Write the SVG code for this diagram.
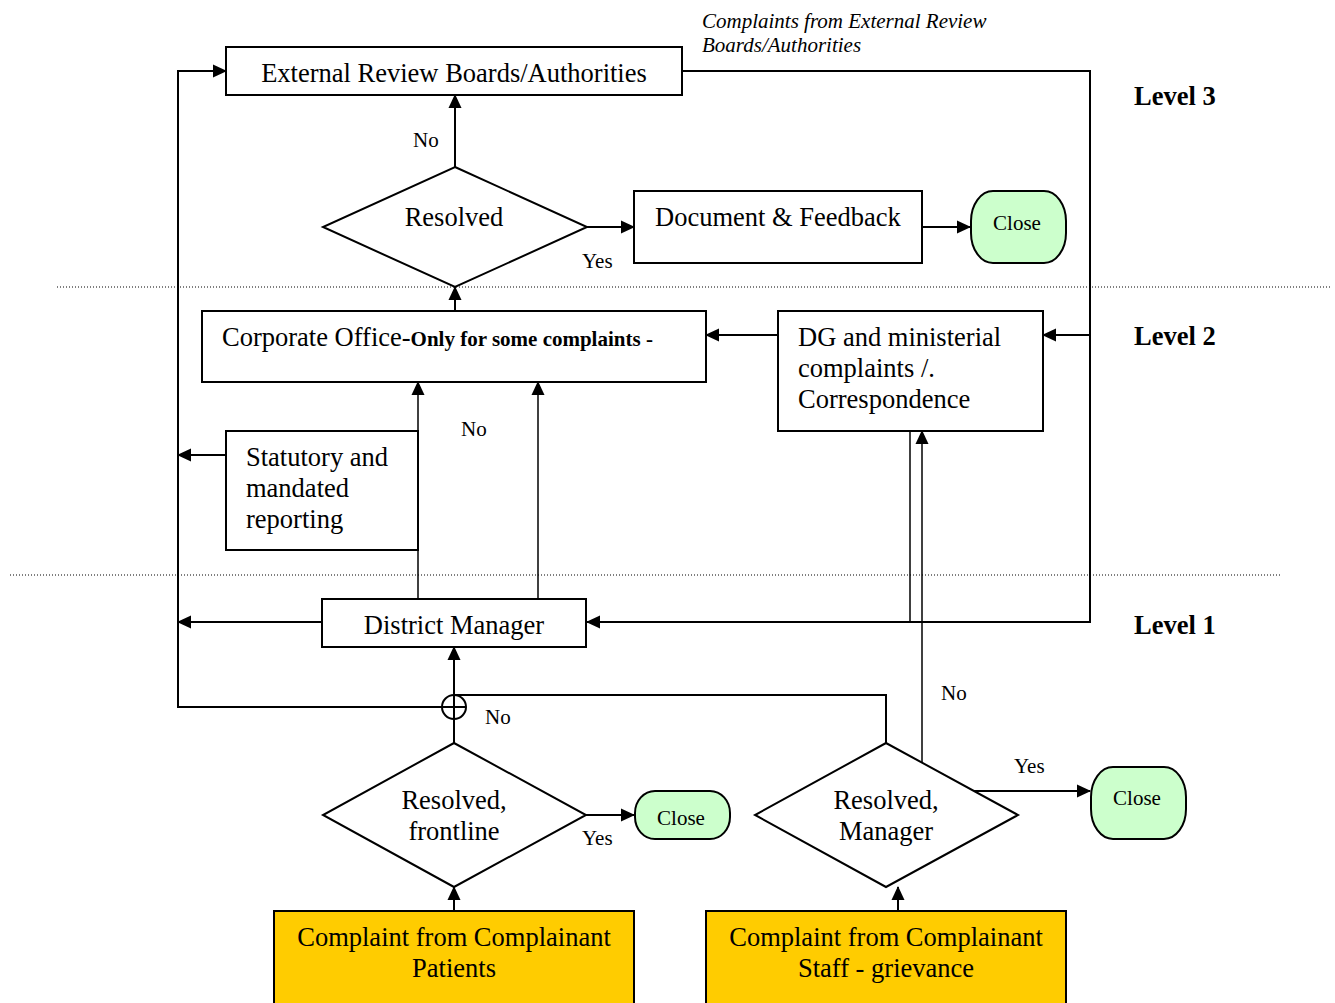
<svg xmlns="http://www.w3.org/2000/svg" width="1335" height="1003" viewBox="0 0 1335 1003">
<defs>
  <marker id="arr" markerWidth="14" markerHeight="14" refX="13" refY="7" orient="auto" markerUnits="userSpaceOnUse">
    <path d="M0,0.5 L14,7 L0,13.5 Z" fill="#000"/>
  </marker>
</defs>
<style>
  text { font-family: "Liberation Serif", "Times New Roman", serif; fill: #000; }
  .box { fill: #fff; stroke: #000; stroke-width: 2; }
  .src { fill: #ffcc00; stroke: #000; stroke-width: 2; }
  .close { fill: #ccffcc; stroke: #000; stroke-width: 2; }
  .con { fill: none; stroke: #000; stroke-width: 2; }
  .thin { fill: none; stroke: #000; stroke-width: 1.5; }
  .dot { stroke: #000; stroke-width: 1; stroke-dasharray: 1 2; }
  .t24 { font-size: 26.5px; }
  .t19 { font-size: 21px; }
  .lvl { font-size: 26.5px; font-weight: bold; }
  .mid { text-anchor: middle; }
</style>
<rect width="1335" height="1003" fill="#fff"/>

<!-- level separators -->
<line class="dot" x1="57" y1="287" x2="1330" y2="287"/>
<line class="dot" x1="10" y1="575" x2="1280" y2="575"/>

<!-- connectors -->
<g id="connectors">
  <!-- left feedback loop to external review boards -->
  <polyline class="con" points="454,707 178,707 178,71 226,71" marker-end="url(#arr)"/>
  <line class="con" x1="226" y1="455" x2="178" y2="455" marker-end="url(#arr)"/>
  <line class="con" x1="322" y1="622" x2="178" y2="622" marker-end="url(#arr)"/>
  <!-- external review boards complaints back down -->
  <polyline class="con" points="682,71 1090,71 1090,622 587,622" marker-end="url(#arr)"/>
  <line class="con" x1="1090" y1="335" x2="1043" y2="335" marker-end="url(#arr)"/>
  <!-- level 3 decision -->
  <line class="con" x1="455" y1="167" x2="455" y2="95" marker-end="url(#arr)"/>
  <line class="con" x1="587" y1="227" x2="634" y2="227" marker-end="url(#arr)"/>
  <line class="con" x1="922" y1="227" x2="970" y2="227" marker-end="url(#arr)"/>
  <line class="con" x1="455" y1="311" x2="455" y2="287" marker-end="url(#arr)"/>
  <!-- level 2 -->
  <line class="con" x1="778" y1="335" x2="706" y2="335" marker-end="url(#arr)"/>
  <line class="thin" x1="418" y1="599" x2="418" y2="382" marker-end="url(#arr)"/>
  <line class="thin" x1="538" y1="599" x2="538" y2="382" marker-end="url(#arr)"/>
  <line class="thin" x1="910" y1="431" x2="910" y2="622"/>
  <line class="thin" x1="922" y1="765" x2="922" y2="431" marker-end="url(#arr)"/>
  <!-- level 1 -->
  <line class="con" x1="454" y1="743" x2="454" y2="647" marker-end="url(#arr)"/>
  <polyline class="con" points="454,695 886,695 886,743"/>
  <circle class="con" cx="454" cy="707" r="12"/>
  <line class="con" x1="442" y1="707" x2="466" y2="707"/>
  <line class="con" x1="586" y1="815" x2="634" y2="815" marker-end="url(#arr)"/>
  <line class="con" x1="970" y1="791" x2="1090" y2="791" marker-end="url(#arr)"/>
  <line class="con" x1="454" y1="911" x2="454" y2="887" marker-end="url(#arr)"/>
  <line class="con" x1="898" y1="911" x2="898" y2="887" marker-end="url(#arr)"/>
</g>

<!-- connector labels -->
<g id="labels">
  <text class="t19" x="413" y="147">No</text>
  <text class="t19" x="582" y="268">Yes</text>
  <text class="t19" x="461" y="436">No</text>
  <text class="t19" x="485" y="724">No</text>
  <text class="t19" x="582" y="845">Yes</text>
  <text class="t19" x="941" y="700">No</text>
  <text class="t19" x="1014" y="773">Yes</text>
  <text class="t19" x="702" y="28" font-style="italic">Complaints from External Review</text>
  <text class="t19" x="702" y="52" font-style="italic">Boards/Authorities</text>
</g>

<!-- level titles -->
<text class="lvl" x="1134" y="105">Level 3</text>
<text class="lvl" x="1134" y="345">Level 2</text>
<text class="lvl" x="1134" y="634">Level 1</text>

<g id="external-review">
  <rect class="box" x="226" y="47" width="456" height="48"/>
  <text class="t24 mid" x="454" y="82">External Review Boards/Authorities</text>
</g>

<g id="resolved-l3">
  <polygon class="box" points="455,167 587,227 455,287 323,227"/>
  <text class="t24 mid" x="454" y="226">Resolved</text>
</g>

<g id="document-feedback">
  <rect class="box" x="634" y="191" width="288" height="72"/>
  <text class="t24" x="655" y="226">Document &amp; Feedback</text>
</g>

<g id="close-l3">
  <rect class="close" x="971" y="191" width="95" height="72" rx="22" ry="30"/>
  <text class="t19 mid" x="1017" y="230">Close</text>
</g>

<g id="corporate-office">
  <rect class="box" x="202" y="311" width="504" height="71"/>
  <text class="t24" x="222" y="346">Corporate Office-<tspan font-size="21" font-weight="bold">Only for some complaints -</tspan></text>
</g>

<g id="dg-ministerial">
  <rect class="box" x="778" y="311" width="265" height="120"/>
  <text class="t24" x="798" y="346">DG and ministerial</text>
  <text class="t24" x="798" y="377">complaints /.</text>
  <text class="t24" x="798" y="408">Correspondence</text>
</g>

<g id="statutory-reporting">
  <rect class="box" x="226" y="431" width="192" height="119"/>
  <text class="t24" x="246" y="466">Statutory and</text>
  <text class="t24" x="246" y="497">mandated</text>
  <text class="t24" x="246" y="528">reporting</text>
</g>

<g id="district-manager">
  <rect class="box" x="322" y="599" width="264" height="48"/>
  <text class="t24 mid" x="454" y="634">District Manager</text>
</g>

<g id="resolved-frontline">
  <polygon class="box" points="454,743 586,815 454,887 323,815"/>
  <text class="t24 mid" x="454" y="809">Resolved,</text>
  <text class="t24 mid" x="454" y="840">frontline</text>
</g>

<g id="close-frontline">
  <rect class="close" x="635" y="791" width="95" height="48" rx="20" ry="22"/>
  <text class="t19 mid" x="681" y="825">Close</text>
</g>

<g id="resolved-manager">
  <polygon class="box" points="886,743 1018,815 886,887 755,815"/>
  <text class="t24 mid" x="886" y="809">Resolved,</text>
  <text class="t24 mid" x="886" y="840">Manager</text>
</g>

<g id="close-manager">
  <rect class="close" x="1091" y="767" width="95" height="72" rx="22" ry="30"/>
  <text class="t19 mid" x="1137" y="805">Close</text>
</g>

<g id="complaint-patients">
  <rect class="src" x="274" y="911" width="360" height="100"/>
  <text class="t24 mid" x="454" y="946">Complaint from Complainant</text>
  <text class="t24 mid" x="454" y="977">Patients</text>
</g>

<g id="complaint-staff">
  <rect class="src" x="706" y="911" width="360" height="100"/>
  <text class="t24 mid" x="886" y="946">Complaint from Complainant</text>
  <text class="t24 mid" x="886" y="977">Staff - grievance</text>
</g>
</svg>
